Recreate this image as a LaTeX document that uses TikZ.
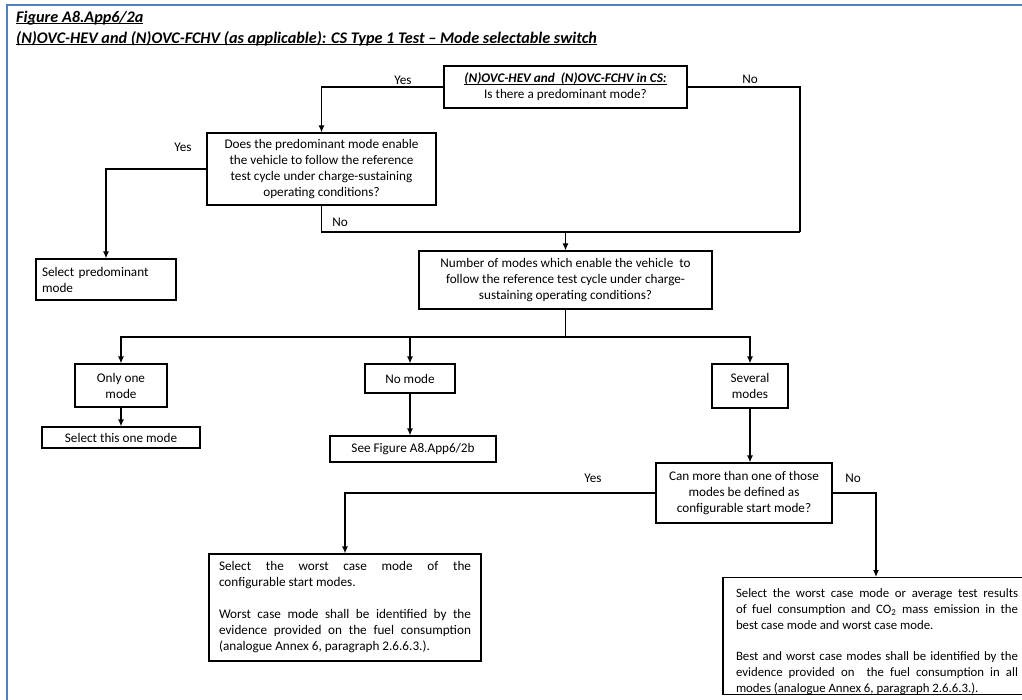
\documentclass[tikz,border=0pt]{standalone}
\usepackage{fontspec}
\setmainfont{Carlito}
\usetikzlibrary{arrows.meta}
\definecolor{frameblue}{RGB}{79,129,189}
\newcommand{\fs}{\fontsize{13.2}{16}\selectfont}
\newcommand{\undl}[1]{\setbox0\hbox{#1}\rlap{\rule[-1.8pt]{\wd0}{0.9pt}}\box0}
\newcommand{\jline}[1]{\makebox[\hsize][s]{\spaceskip=0pt\xspaceskip=0pt #1}\\}
\tikzset{
  box/.style={draw, line width=1.2pt, align=center, inner sep=0pt, font=\fs},
  jbox/.style={draw, line width=1.2pt, align=justify, inner ysep=0pt, font=\fs},
  lbl/.style={font=\fs},
  wire/.style={line width=1.2pt},
  arr/.style={line width=1.2pt, -{Latex[length=7pt,width=6pt]}}
}

\begin{document}
\begin{tikzpicture}[x=1pt,y=-1pt]
\useasboundingbox (0,0) rectangle (1022,700);
\draw[frameblue, line width=2.5pt] (7,720) -- (7,5) -- (1040,5);

\node[anchor=north west, align=left, inner sep=2pt, font=\fontsize{16.2}{21}\selectfont\bfseries\itshape] (title) at (14,9)
  {\undl{Figure A8.App6/2a}\\\undl{(N)OVC-HEV and (N)OVC-FCHV (as applicable): CS Type 1 Test – Mode selectable switch}};

% decisions and results
\node[box, minimum width=243, minimum height=42] (top) at (565.5,87)
  {\undl{\textbf{\textit{(N)OVC-HEV and\ \ (N)OVC-FCHV in CS:}}}\\Is there a predominant mode?};
\node[box, minimum width=229, minimum height=72] (pred) at (321.5,169)
  {Does the predominant mode enable\\the vehicle to follow the reference\\test cycle under charge-sustaining\\operating conditions?};
\node[box, align=left, text width=128, inner xsep=6pt, minimum height=41] (selpred) at (106,279.5)
  {Select predominant\\mode};
\node[box, minimum width=293, minimum height=58] (number) at (565.5,280)
  {Number of modes which enable the vehicle\ \ to\\follow the reference test cycle under charge-\\sustaining operating conditions?};

\node[box, minimum width=92, minimum height=43] (only) at (121,385.5) {Only one\\mode};
\node[box, minimum width=158, minimum height=21] (selone) at (121,437.5) {Select this one mode};
\node[box, minimum width=90, minimum height=29] (nomode) at (410,378.5) {No mode};
\node[box, minimum width=166, minimum height=26] (seefig) at (413,449) {See Figure A8.App6/2b};
\node[box, minimum width=76, minimum height=44] (several) at (750,386) {Several\\modes};
\node[box, minimum width=176, minimum height=60] (canmore) at (744,493)
  {Can more than one of those\\modes be defined as\\configurable start mode?};

\node[jbox, text width=252, inner xsep=10pt, minimum height=107] (worst) at (345,607.5)
  {\jline{Select the worst case mode of the}
   configurable start modes.\\[16pt]
   \jline{Worst case mode shall be identified by the}
   \jline{evidence provided on the fuel consumption}
   (analogue Annex 6, paragraph 2.6.6.3.).};
\node[jbox, anchor=north, text width=282, inner xsep=13pt, font=\fontsize{12.8}{16}\selectfont] (bestworst) at (877,577)
  {\jline{\rule{0pt}{20pt}Select the worst case mode or average test results}
   \jline{of fuel consumption and CO\textsubscript{2} mass emission in the}
   best case mode and worst case mode.\\[15pt]
   \jline{Best and worst case modes shall be identified by the}
   \jline{evidence provided on\ \ the fuel consumption in all}
   modes (analogue Annex 6, paragraph 2.6.6.3.).};

% connectors
\coordinate (join) at (800,232);
\coordinate (bus) at (565.5,337);
\coordinate (nokink) at (876,493);
\draw[arr] (top.west) -| (pred.north);
\draw[wire] (top.east) -| (join);
\draw[wire] (pred.south) |- (join);
\draw[arr] (number.north |- join) -- (number.north);
\draw[arr] (pred.west) -| (selpred.north);
\draw[wire] (number.south) -- (bus);
\draw[arr] (bus) -| (only.north);
\draw[arr] (bus) -| (several.north);
\draw[arr] (nomode.north |- bus) -- (nomode.north);
\draw[arr] (only.south) -- (selone.north);
\draw[arr] (nomode.south) -- (nomode.south |- seefig.north);
\draw[arr] (several.south) -- (several.south |- canmore.north);
\draw[arr] (canmore.west) -| (worst.north);
\draw[arr] (canmore.east) -- (nokink) -- (nokink |- bestworst.north);

% labels
\node[lbl] (yes1) at (403,80) {Yes};
\node[lbl] (no1) at (750,79) {No};
\node[lbl] (yes2) at (183,147) {Yes};
\node[lbl] (no2) at (340,222) {No};
\node[lbl] (yes3) at (593,478) {Yes};
\node[lbl] (no3) at (853,478) {No};
\end{tikzpicture}
\end{document}
